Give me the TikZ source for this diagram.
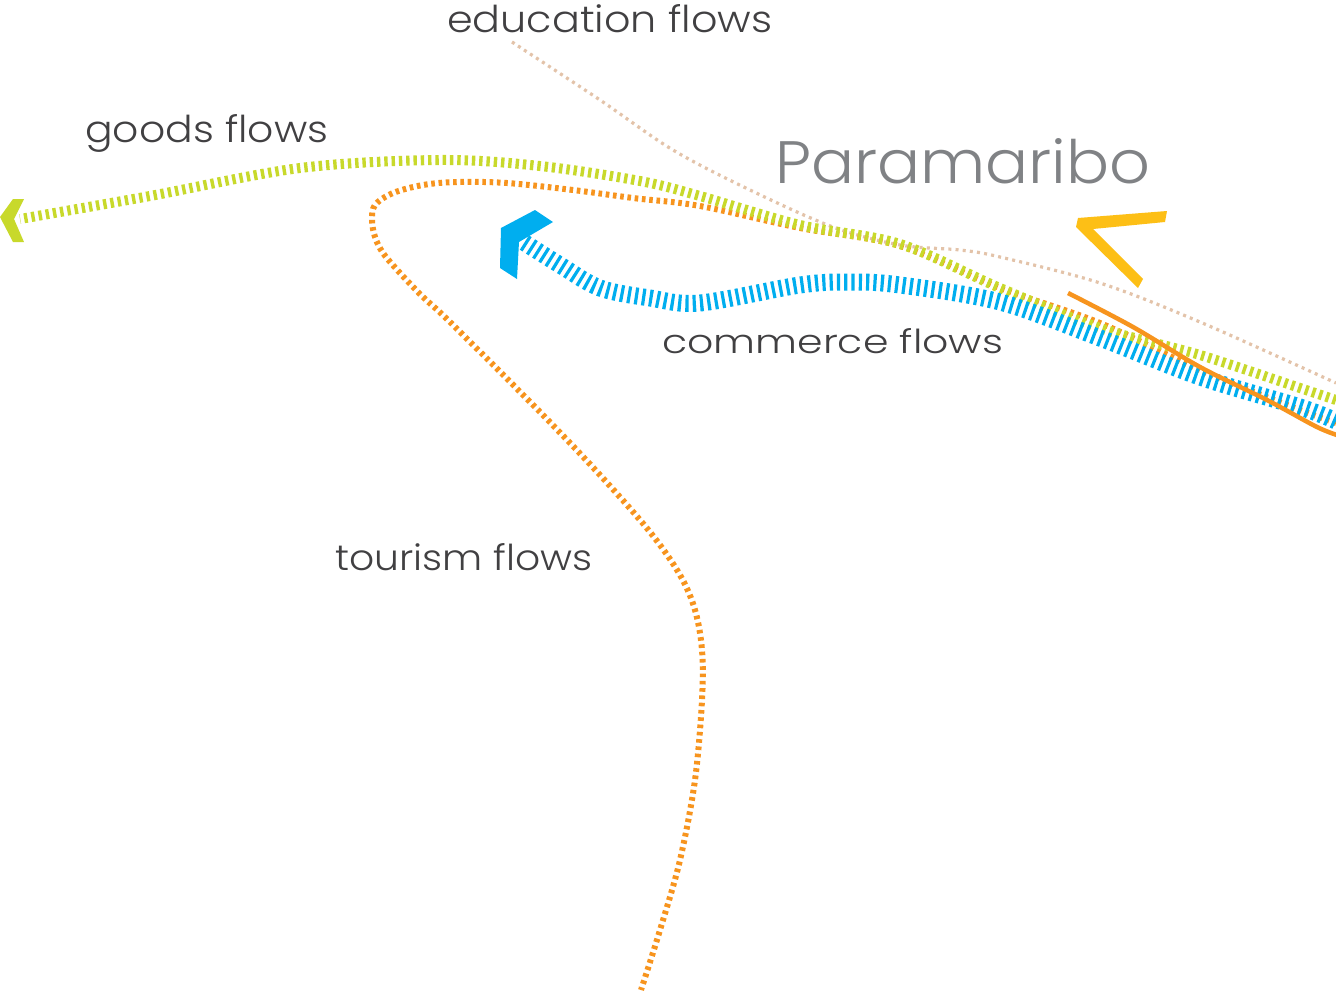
\documentclass[tikz,border=0pt]{standalone}
\usepackage{fontspec}
\usepackage{graphicx}
\setmainfont{Poppins Light}
\definecolor{goodsgreen}{HTML}{C8D92B}
\definecolor{commblue}{HTML}{00AEEF}
\definecolor{tourorange}{HTML}{F7941E}
\definecolor{edutan}{HTML}{E3C3A9}
\definecolor{markyellow}{HTML}{FDBF16}
\definecolor{labeldark}{HTML}{414042}
\definecolor{citygray}{HTML}{808285}
\tikzset{
  flowlabel/.style={anchor=base west, inner sep=0pt, text=labeldark},
  citylabel/.style={anchor=base west, inner sep=0pt, text=citygray},
  goodsline/.style={draw=goodsgreen, line width=10pt, dash pattern=on 3.4pt off 3.9pt},
  commline/.style={draw=commblue, line width=17pt, dash pattern=on 3.2pt off 4.1pt},
  tourline/.style={draw=tourorange, line width=6pt, dash pattern=on 3.6pt off 3.7pt},
  eduline/.style={draw=edutan, line width=3.2pt, dash pattern=on 3pt off 4.2pt},
  solidorange/.style={draw=tourorange, line width=4.5pt},
}
\begin{document}
\begin{tikzpicture}[x=1pt,y=-1pt]
\useasboundingbox (0,0) rectangle (1336,991);
\fill[white] (0,0) rectangle (1336,991);

% education flows (tan, dotted)
\draw[eduline] plot[smooth, tension=0.55] coordinates {(512,42) (600,100) (673,150) (750,190) (833,227) (900,245) (960,250) (1000,257) (1100,283) (1200,322) (1336,383)};

% tourism flows (orange dashed)
\draw[tourline] plot[smooth, tension=0.55] coordinates {(1336,423) (1300,410) (1200,370) (1100,323) (1000,288) (900,246) (800,228) (700,206) (633,198) (573,190) (507,183) (457,182) (423,185) (393,193) (375,205) (372,220) (375,237) (383,253) (400,273) (423,297) (450,322) (540,412) (600,475) (650,532) (680,575) (695,610) (702,650) (702,700) (695,780) (680,860) (660,930) (641,990)};

% goods flows (green dashed)
\draw[goodsline] plot[smooth, tension=0.55] coordinates {(1336,400) (1300,388) (1200,355) (1100,328) (1000,288) (900,244) (800,225) (700,196) (640,181) (540,166) (440,160) (300,168) (150,196) (20,219)};
\fill[goodsgreen] (0,217) -- (13,199) -- (24,199) -- (14,219) -- (24,242) -- (13,242) -- cycle;

% commerce flows (blue dashed)
\draw[commline] plot[smooth, tension=0.55] coordinates {(1336,421) (1300,407) (1200,377) (1100,338) (1000,302) (900,285) (850,282) (800,285) (700,303) (650,298) (600,288) (560,265) (522,241)};
\fill[commblue] (501,228) -- (535,210) -- (553,222) -- (519,242) -- (517,279) -- (500,268) -- cycle;

% solid orange segment
\draw[solidorange] plot[smooth, tension=0.55] coordinates {(1068,293) (1133,327) (1200,367) (1267,400) (1317,427) (1340,436)};

% yellow chevron
\fill[markyellow] (1078,218) -- (1167,211) -- (1165,222) -- (1093,229) -- (1143,279) -- (1138,288) -- (1076,227) -- cycle;

% labels
\node[flowlabel] (edu) at (447,32) {\resizebox{325pt}{28pt}{education flows}};
\node[flowlabel] (goods) at (85,142) {\resizebox{243pt}{28pt}{goods flows}};
\node[citylabel] (city) at (775,183) {\resizebox{375pt}{45pt}{Paramaribo}};
\node[flowlabel] (comm) at (662,353) {\resizebox{341pt}{25pt}{commerce flows}};
\node[flowlabel] (tour) at (335,570) {\resizebox{257pt}{27pt}{tourism flows}};
\end{tikzpicture}
\end{document}
